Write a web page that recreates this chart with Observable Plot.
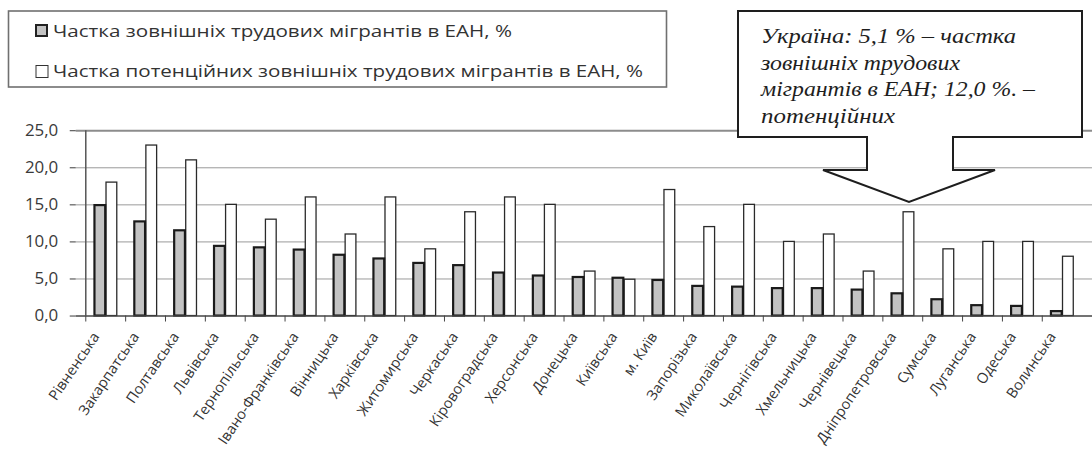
<!DOCTYPE html>
<html><head><meta charset="utf-8">
<script src="https://cdn.jsdelivr.net/npm/d3@7"></script>
<script src="https://cdn.jsdelivr.net/npm/@observablehq/plot@0.6"></script>
<style>
html,body{margin:0;padding:0;background:#fff;overflow:hidden;width:1092px;height:449px}
#wrap{position:relative;width:1092px;height:449px;overflow:hidden}
#chart{position:absolute;left:0;top:0}
#overlay{position:absolute;left:0;top:0}
</style></head><body><div id="wrap"><div id="chart"></div><svg id="overlay" width="1092" height="449"></svg></div>
<script>
const regions = ["Рівненська","Закарпатська","Полтавська","Львівська","Тернопільська","Івано-Франківська","Вінницька","Харківська","Житомирська","Черкаська","Кіровоградська","Херсонська","Донецька","Київська","м. Київ","Запорізька","Миколаївська","Чернігівська","Хмельницька","Чернівецька","Дніпропетровська","Сумська","Луганська","Одеська","Волинська"];
const emigrants = [14.9,12.7,11.5,9.4,9.2,8.9,8.2,7.7,7.1,6.8,5.8,5.4,5.2,5.1,4.8,4.0,3.9,3.7,3.7,3.5,3.0,2.2,1.4,1.3,0.6];
const potential = [18,23,21,15,13,16,11,16,9,14,16,15,6,4.9,17,12,15,10,11,6,14,9,10,10,8];
const yTicks = [0,5,10,15,20,25];
const legendLabels = ["Частка зовнішніх трудових мігрантів в ЕАН, %","Частка потенційних зовнішніх трудових мігрантів в ЕАН, %"];
const calloutLines = ["Україна: 5,1 % – частка","зовнішніх трудових","мігрантів в ЕАН; 12,0 %. –","потенційних"];

const emiRows = regions.map((r,i)=>({region:r, value:emigrants[i]}));
const potRows = regions.map((r,i)=>({region:r, value:potential[i]}));

const W = 1096, H = 449, mL = 76, mT = 130.7, mB = H - 316.7;
const step = (W - mL) / regions.length;
const barW = 11.6;

const chart = Plot.plot({
  width: W, height: H,
  marginLeft: mL, marginRight: 0, marginTop: mT, marginBottom: mB,
  style: {fontFamily: "'Open Sans', sans-serif", background: "white", overflow: "visible", color: "#333"},
  x: {domain: regions, padding: 0, axis: null},
  y: {domain: [0, 25], axis: null},
  marks: [
    Plot.gridY(yTicks.slice(1, 5), {stroke: "#9a9a9a", strokeOpacity: 1, strokeWidth: 1}),
    Plot.ruleY([25], {stroke: "#8c8c8c", strokeWidth: 2}),
    Plot.barY(potRows, {x: "region", y: "value", fill: "white", stroke: "#2a2a2a", strokeWidth: 1.3,
      insetLeft: step/2, insetRight: step/2 - barW}),
    Plot.barY(emiRows, {x: "region", y: "value", fill: "#c3c3c3", stroke: "#1a1a1a", strokeWidth: 2.2,
      insetLeft: step/2 - barW, insetRight: step/2}),
    Plot.ruleX([regions[0]], {dx: -step/2, y1: 0, y2: 25, stroke: "#555", strokeWidth: 1.5}),
    Plot.ruleY([0], {stroke: "#444", strokeWidth: 1.5}),
    Plot.axisY(yTicks, {tickSize: 6, tickPadding: 12, fontSize: 17, color: "#3a3a3a", label: null,
      tickFormat: d => d.toFixed(1).replace(".", ",")}),
    Plot.axisX(regions, {tickSize: 6, tickFormat: () => "", dx: -step/2, color: "#444", label: null}),
    Plot.axisX(regions, {tickSize: 0, tickPadding: 12, tickRotate: -56, fontSize: 14.6, color: "#333", label: null, dx: -10, dy: 6})
  ]
});
document.getElementById("chart").appendChild(chart);

// Overlay: legend and callout
const ov = d3.select("#overlay");
const lg = ov.append("g");
lg.append("rect").attr("x", 8.5).attr("y", 11).attr("width", 658).attr("height", 76)
  .attr("fill", "white").attr("stroke", "#707070").attr("stroke-width", 1.6);
lg.append("rect").attr("x", 36).attr("y", 25).attr("width", 11).attr("height", 11)
  .attr("fill", "#c3c3c3").attr("stroke", "#222").attr("stroke-width", 2);
lg.append("rect").attr("x", 36).attr("y", 65.5).attr("width", 12).attr("height", 12)
  .attr("fill", "white").attr("stroke", "#333").attr("stroke-width", 1);
const legW = [459, 590], legY = [36.5, 77];
legendLabels.forEach((t, i) => {
  lg.append("text").attr("x", 53).attr("y", legY[i]).attr("textLength", legW[i]).attr("lengthAdjust", "spacingAndGlyphs")
    .attr("font-family", "'Open Sans', sans-serif").attr("font-size", 16.5).attr("fill", "#333").text(t);
});

const co = ov.append("g");
co.append("path")
  .attr("d", "M738,11 H1082 V137 H953 V170 H995 L909,202 L823,170 H867 V137 H738 Z")
  .attr("fill", "white").attr("stroke", "#1e1e1e").attr("stroke-width", 2).attr("stroke-linejoin", "miter");
const coW = [255, 199, 274, 134], coY = [43, 69.5, 96, 122.5];
calloutLines.forEach((t, i) => {
  co.append("text").attr("x", 761).attr("y", coY[i]).attr("textLength", coW[i]).attr("lengthAdjust", "spacingAndGlyphs")
    .attr("font-family", "'Liberation Serif', 'Times New Roman', serif").attr("font-style", "italic")
    .attr("font-size", 21.5).attr("fill", "#1e1e1e").text(t);
});
</script></body></html>
